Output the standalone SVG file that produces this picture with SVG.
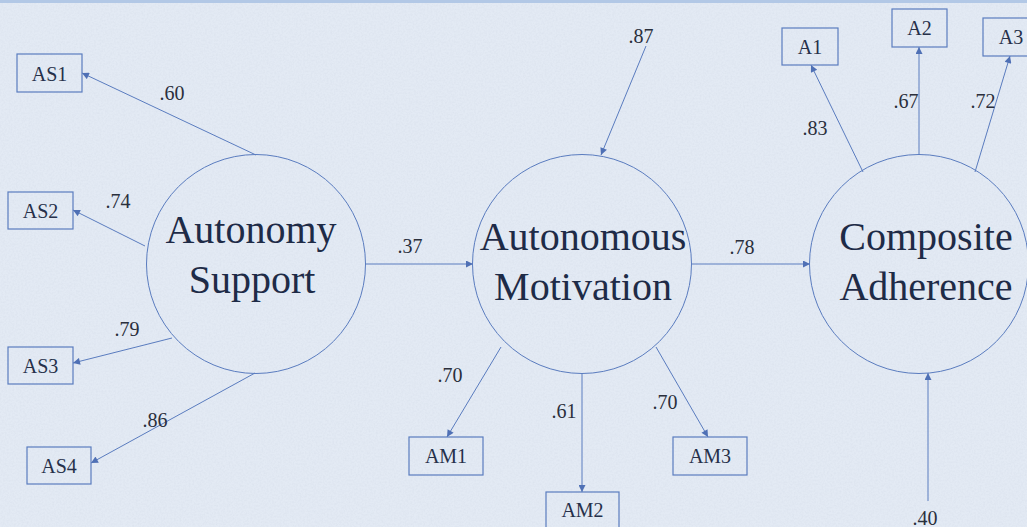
<svg xmlns="http://www.w3.org/2000/svg" width="1027" height="527" viewBox="0 0 1027 527">
  <defs>
    <style>
      .latent { fill: none; stroke: #5a7cbf; stroke-width: 1; }
      .obs { fill: none; stroke: #5a7cbf; stroke-width: 1.2; }
      .big { font-size: 40px; fill: #1e2b47; }
      .ind { font-size: 20px; fill: #26304a; }
      .coef { font-size: 20px; fill: #2a2f3c; }
      #connectors line { stroke: #5a7cbf; stroke-width: 1; marker-end: url(#tip); }
    </style>
    <marker id="tip" viewBox="0 0 10 10" refX="10" refY="5" markerWidth="9" markerHeight="7" markerUnits="userSpaceOnUse" orient="auto">
      <path d="M0,0 L10,5 L0,10 z" fill="#4f70b5"/>
    </marker>
    <filter id="paper" x="0" y="0" width="100%" height="100%">
      <feTurbulence type="fractalNoise" baseFrequency="0.55" numOctaves="3" seed="7" result="n"/>
      <feColorMatrix in="n" type="matrix" values="0 0 0 0 0.55  0 0 0 0 0.6  0 0 0 0 0.7  0 0 0 -1.6 1.05"/>
    </filter>
  </defs>

  <!-- paper background -->
  <rect x="0" y="0" width="1027" height="527" fill="#e3eaf4"/>
  <rect x="0" y="0" width="1027" height="527" filter="url(#paper)" opacity="0.22"/>
  <rect x="0" y="0" width="1027" height="3" fill="#b2c8e6"/>

  <!-- connectors -->
  <g id="connectors">
    <line x1="256" y1="155" x2="82" y2="73"/>
    <line x1="145" y1="246" x2="73" y2="210"/>
    <line x1="172" y1="338" x2="73" y2="363"/>
    <line x1="255" y1="373" x2="91" y2="463"/>
    <line x1="365" y1="264" x2="473" y2="264"/>
    <line x1="646" y1="46" x2="601" y2="155"/>
    <line x1="692" y1="264" x2="810" y2="264"/>
    <line x1="501" y1="347" x2="447" y2="437"/>
    <line x1="582" y1="373" x2="582" y2="492"/>
    <line x1="656" y1="347" x2="708" y2="437"/>
    <line x1="863" y1="172" x2="811" y2="65"/>
    <line x1="919" y1="155" x2="919" y2="47"/>
    <line x1="975" y1="172" x2="1010" y2="56"/>
    <line x1="928" y1="501" x2="928" y2="373"/>
  </g>

  <g font-family="Liberation Serif, DejaVu Serif, serif" text-anchor="middle">
    <!-- path coefficients -->
    <g id="coefficients">
      <text class="coef" x="172" y="100">.60</text>
      <text class="coef" x="118" y="208">.74</text>
      <text class="coef" x="127" y="336">.79</text>
      <text class="coef" x="155" y="427">.86</text>
      <text class="coef" x="410" y="253">.37</text>
      <text class="coef" x="641" y="43">.87</text>
      <text class="coef" x="742" y="254">.78</text>
      <text class="coef" x="450" y="382">.70</text>
      <text class="coef" x="564" y="418">.61</text>
      <text class="coef" x="665" y="409">.70</text>
      <text class="coef" x="815" y="135">.83</text>
      <text class="coef" x="906" y="108">.67</text>
      <text class="coef" x="983" y="108">.72</text>
      <text class="coef" x="925" y="525">.40</text>
    </g>

    <!-- latent constructs -->
    <g id="autonomy-support">
      <circle class="latent" cx="256" cy="264" r="109.5"/>
      <text class="big" x="251" y="243">Autonomy</text>
      <text class="big" x="252" y="293">Support</text>
    </g>
    <g id="autonomous-motivation">
      <circle class="latent" cx="582" cy="264" r="109.5"/>
      <text class="big" x="583" y="250">Autonomous</text>
      <text class="big" x="583" y="300">Motivation</text>
    </g>
    <g id="composite-adherence">
      <circle class="latent" cx="919" cy="264" r="109.5"/>
      <text class="big" x="926" y="250">Composite</text>
      <text class="big" x="926" y="300">Adherence</text>
    </g>

    <!-- indicators -->
    <g id="AS1"><rect class="obs" x="17" y="54" width="65" height="38"/><text class="ind" x="49.5" y="81">AS1</text></g>
    <g id="AS2"><rect class="obs" x="8" y="192" width="65" height="37"/><text class="ind" x="40.5" y="218">AS2</text></g>
    <g id="AS3"><rect class="obs" x="8" y="347" width="65" height="37"/><text class="ind" x="40.5" y="373">AS3</text></g>
    <g id="AS4"><rect class="obs" x="27" y="447" width="64" height="37"/><text class="ind" x="59" y="473">AS4</text></g>
    <g id="AM1"><rect class="obs" x="409" y="437" width="74" height="38"/><text class="ind" x="446" y="463">AM1</text></g>
    <g id="AM2"><rect class="obs" x="546" y="492" width="73" height="38"/><text class="ind" x="582.5" y="517">AM2</text></g>
    <g id="AM3"><rect class="obs" x="673" y="437" width="74" height="38"/><text class="ind" x="710" y="463">AM3</text></g>
    <g id="A1"><rect class="obs" x="782" y="28" width="56" height="37"/><text class="ind" x="810" y="54">A1</text></g>
    <g id="A2"><rect class="obs" x="892" y="9" width="55" height="38"/><text class="ind" x="919.5" y="35">A2</text></g>
    <g id="A3"><rect class="obs" x="983" y="18" width="56" height="38"/><text class="ind" x="1011" y="44">A3</text></g>
  </g>
</svg>
